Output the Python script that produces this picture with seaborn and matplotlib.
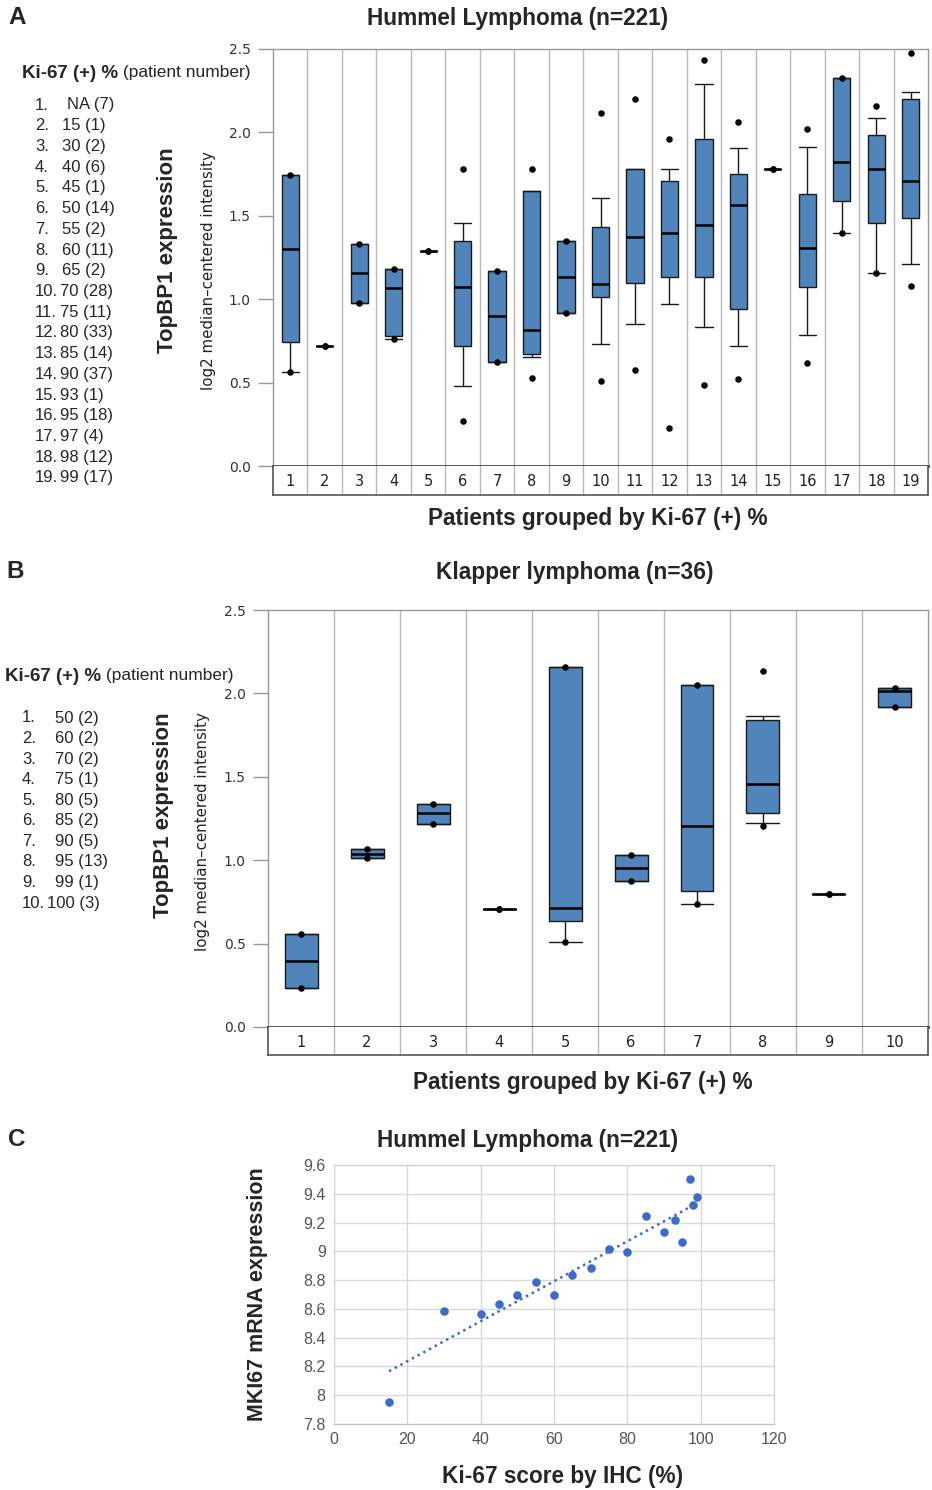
import numpy as np
import pandas as pd
import matplotlib
matplotlib.use("Agg")
import matplotlib.pyplot as plt
import seaborn as sns

# ======= DATA ======= #

# Panel A: Hummel lymphoma, boxes per Ki-67 group
hummel_ki67 = ["NA", "15", "30", "40", "45", "50", "55", "60", "65", "70",
               "75", "80", "85", "90", "93", "95", "97", "98", "99"]
hummel_n = [7, 1, 2, 6, 1, 14, 2, 11, 2, 28, 11, 33, 14, 37, 1, 18, 4, 12, 17]
hummel_min = [0.565, 0.719, 0.977, 0.761, 1.287, 0.272, 0.624, 0.530, 0.917, 0.512,
              0.574, 0.228, 0.486, 0.520, 1.779, 0.616, 1.399, 1.159, 1.079]
hummel_p10 = [0.565, 0.719, 0.977, 0.761, 1.287, 0.478, 0.624, 0.652, 0.917, 0.730,
              0.849, 0.969, 0.831, 0.721, 1.779, 0.787, 1.399, 1.159, 1.211]
hummel_q1 = [0.745, 0.719, 0.977, 0.779, 1.287, 0.719, 0.624, 0.670, 0.917, 1.011,
             1.097, 1.131, 1.131, 0.943, 1.779, 1.071, 1.587, 1.459, 1.485]
hummel_med = [1.299, 0.719, 1.159, 1.065, 1.287, 1.073, 0.899, 0.815, 1.133, 1.089,
              1.373, 1.399, 1.445, 1.565, 1.779, 1.305, 1.821, 1.779, 1.709]
hummel_q3 = [1.745, 0.719, 1.331, 1.183, 1.287, 1.349, 1.169, 1.649, 1.347, 1.433,
             1.779, 1.707, 1.958, 1.753, 1.779, 1.633, 2.328, 1.984, 2.200]
hummel_p90 = [1.745, 0.719, 1.331, 1.183, 1.287, 1.459, 1.169, 1.649, 1.347, 1.605,
              1.779, 1.779, 2.288, 1.906, 1.779, 1.914, 2.328, 2.088, 2.242]
hummel_max = [1.745, 0.719, 1.331, 1.183, 1.287, 1.779, 1.169, 1.779, 1.347, 2.114,
              2.200, 1.958, 2.432, 2.062, 1.779, 2.019, 2.328, 2.156, 2.476]

# Panel B: Klapper lymphoma
klapper_ki67 = ["50", "60", "70", "75", "80", "85", "90", "95", "99", "100"]
klapper_n = [2, 2, 2, 1, 5, 2, 5, 13, 1, 3]
klapper_min = [0.232, 1.013, 1.219, 0.706, 0.508, 0.875, 0.739, 1.205, 0.799, 1.918]
klapper_p10 = [0.232, 1.013, 1.219, 0.706, 0.508, 0.875, 0.739, 1.221, 0.799, 1.918]
klapper_q1 = [0.232, 1.013, 1.219, 0.706, 0.635, 0.875, 0.817, 1.281, 0.799, 1.918]
klapper_med = [0.396, 1.039, 1.285, 0.706, 0.715, 0.955, 1.203, 1.455, 0.799, 2.016]
klapper_q3 = [0.559, 1.069, 1.335, 0.706, 2.160, 1.033, 2.049, 1.841, 0.799, 2.031]
klapper_p90 = [0.559, 1.069, 1.335, 0.706, 2.160, 1.033, 2.049, 1.866, 0.799, 2.031]
klapper_max = [0.559, 1.069, 1.335, 0.706, 2.160, 1.033, 2.049, 2.136, 0.799, 2.031]

# Panel C: MKI67 mRNA vs Ki-67 IHC score
ihc_score = [15, 30, 40, 45, 50, 55, 60, 65, 70, 75, 80, 85, 90, 93, 95, 97, 98, 99]
mki67_expr = [7.95, 8.585, 8.565, 8.636, 8.694, 8.785, 8.694, 8.836, 8.887, 9.014,
              8.995, 9.246, 9.134, 9.215, 9.065, 9.505, 9.324, 9.375]

# ======= STYLE ======= #
sns.set_style("white")
plt.rcParams["font.family"] = ["Liberation Sans", "DejaVu Sans"]

W, H = 932, 1490
BOX_BLUE = "#5084bb"
SEP_GREY = "#b8b8b8"
DOT_BLUE = "#3b6cc7"
TITLE_FS = 16.3

fig = plt.figure(figsize=(W / 100, H / 100), dpi=100)


def rect(l, t, r, b):
    return [l / W, 1 - b / H, (r - l) / W, (b - t) / H]


def ftext(x, y, s, **kw):
    return fig.text(x / W, 1 - y / H, s, **kw)


def box_panel(main_rect, strip_rect, mins, p10, q1, med, q3, p90, maxs):
    ax = fig.add_axes(rect(*main_rect))
    strip = fig.add_axes(rect(*strip_rect), sharex=ax)
    n = len(med)
    pos = list(range(n))

    stats = [
        dict(whislo=p10[i], q1=q1[i], med=med[i], q3=q3[i], whishi=p90[i], fliers=[])
        for i in range(n)
    ]
    ax.bxp(
        stats, positions=pos, widths=0.5, capwidths=0.5,
        patch_artist=True, showfliers=False,
        boxprops=dict(facecolor=BOX_BLUE, edgecolor="#1a1a1a", linewidth=1),
        medianprops=dict(color="black", linewidth=1.8),
        whiskerprops=dict(color="#1a1a1a", linewidth=1),
        capprops=dict(color="#1a1a1a", linewidth=1),
        zorder=3,
    )

    # min / max dots
    dots = pd.DataFrame({"x": pos + pos, "y": list(mins) + list(maxs)})
    sns.scatterplot(data=dots, x="x", y="y", color="black", s=22,
                    linewidth=0, ax=ax, zorder=5, legend=False)

    for i in range(n - 1):
        ax.axvline(i + 0.5, color=SEP_GREY, lw=1, zorder=1)
        strip.axvline(i + 0.5, color=SEP_GREY, lw=1)

    ax.set_xlim(-0.5, n - 0.5)
    ax.set_ylim(0, 2.5)
    ax.set_yticks(np.arange(0, 2.51, 0.5))
    ax.set_yticklabels([f"{v:.1f}" for v in np.arange(0, 2.51, 0.5)],
                       family="DejaVu Sans", fontsize=10, color="#333333")
    ax.tick_params(axis="y", left=True, length=11, width=1, color="#999999", pad=5)
    ax.tick_params(axis="x", bottom=False, labelbottom=False)
    ax.set_xlabel("")
    ax.set_ylabel("")
    for side in ["top", "right", "left"]:
        ax.spines[side].set_color("#999999")
        ax.spines[side].set_linewidth(1)
    ax.spines["bottom"].set_color("#444444")
    ax.spines["bottom"].set_linewidth(2)

    strip.set_ylim(0, 1)
    strip.tick_params(left=False, bottom=False, labelleft=False, labelbottom=False)
    for side in ["left", "right", "bottom"]:
        strip.spines[side].set_color("#555555")
        strip.spines[side].set_linewidth(1.2)
    strip.spines["top"].set_visible(False)
    for i in range(n):
        strip.text(i, 0.45, str(i + 1), ha="center", va="center",
                   family="DejaVu Sans", fontsize=10.5, color="#222222")
    return ax


def legend_block(x_head, y_head, x_num, x_val, x_val2, y0, step, values, counts):
    t = ftext(x_head, y_head, "Ki-67 (+) %", fontsize=13.5, fontweight="bold",
              va="center", ha="left")
    plt.annotate(" (patient number)", xy=(1, 0.1), xycoords=t, fontsize=12.5,
                 va="bottom", ha="left", annotation_clip=False)
    for i, (v, c) in enumerate(zip(values, counts)):
        y = y0 + i * step
        ftext(x_num, y, f"{i + 1}.", fontsize=12, va="center", ha="left")
        xv = x_val if i < 9 else x_val2
        if v == "NA":
            xv += 5
        ftext(xv, y, f"{v} ({c})", fontsize=12, va="center", ha="left")


# ======= PANEL A ======= #
box_panel((273, 49, 928, 466), (273, 466, 928, 495),
          hummel_min, hummel_p10, hummel_q1, hummel_med, hummel_q3,
          hummel_p90, hummel_max)
ftext(17, 17, "A", fontsize=17.5, fontweight="bold", ha="center", va="center")
ftext(518, 19, "Hummel Lymphoma (n=221)", fontsize=TITLE_FS, fontweight="bold",
      ha="center", va="center")
ftext(598, 518, "Patients grouped by Ki-67 (+) %", fontsize=TITLE_FS,
      fontweight="bold", ha="center", va="center")
ftext(167, 250, "TopBP1 expression", fontsize=16, fontweight="bold",
      rotation=90, ha="center", va="center")
ftext(208, 271, "log2 median\u2013centered intensity", fontsize=10.8,
      family="DejaVu Sans", rotation=90, ha="center", va="center", color="#222222")
legend_block(22, 73, 35, 62, 60, 105, 20.72, hummel_ki67, hummel_n)

# ======= PANEL B ======= #
box_panel((268, 610, 928, 1027), (268, 1027, 928, 1055),
          klapper_min, klapper_p10, klapper_q1, klapper_med, klapper_q3,
          klapper_p90, klapper_max)
ftext(15, 572, "B", fontsize=17.5, fontweight="bold", ha="center", va="center")
ftext(575, 572, "Klapper lymphoma (n=36)", fontsize=TITLE_FS, fontweight="bold",
      ha="center", va="center")
ftext(583, 1082, "Patients grouped by Ki-67 (+) %", fontsize=TITLE_FS,
      fontweight="bold", ha="center", va="center")
ftext(164, 815, "TopBP1 expression", fontsize=16, fontweight="bold",
      rotation=90, ha="center", va="center")
ftext(203, 832, "log2 median\u2013centered intensity", fontsize=10.8,
      family="DejaVu Sans", rotation=90, ha="center", va="center", color="#222222")
legend_block(5, 676, 22, 55, 47, 718, 20.56, klapper_ki67, klapper_n)

# ======= PANEL C ======= #
axc = fig.add_axes(rect(334, 1165, 774, 1424))
df_c = pd.DataFrame({"ihc": ihc_score, "mki67": mki67_expr})
sns.regplot(data=df_c, x="ihc", y="mki67", scatter=False, ci=None, ax=axc,
            line_kws=dict(color=DOT_BLUE, lw=1.8, ls=(0, (1, 1.6))))
sns.scatterplot(data=df_c, x="ihc", y="mki67", color=DOT_BLUE, s=38,
                linewidth=0, ax=axc, zorder=4)
axc.set_xlim(0, 120)
axc.set_ylim(7.8, 9.6)
axc.set_xticks(np.arange(0, 121, 20))
yt = np.round(np.arange(7.8, 9.61, 0.2), 1)
axc.set_yticks(yt)
axc.set_yticklabels([f"{v:g}" for v in yt])
axc.tick_params(length=0, labelsize=11.5, labelcolor="#555555", pad=6)
axc.grid(True, color="#d9d9d9", lw=1)
for side in axc.spines:
    axc.spines[side].set_color("#d0d0d0")
axc.spines["bottom"].set_color("#bfbfbf")
axc.set_xlabel("")
axc.set_ylabel("")
ftext(17, 1140, "C", fontsize=17.5, fontweight="bold", ha="center", va="center")
ftext(528, 1140, "Hummel Lymphoma (n=221)", fontsize=TITLE_FS, fontweight="bold",
      ha="center", va="center")
ftext(563, 1476, "Ki-67 score by IHC (%)", fontsize=TITLE_FS, fontweight="bold",
      ha="center", va="center")
ftext(258, 1294, "MKI67 mRNA expression", fontsize=15.5, fontweight="bold",
      rotation=90, ha="center", va="center")

fig.savefig("out.png", dpi=100)
